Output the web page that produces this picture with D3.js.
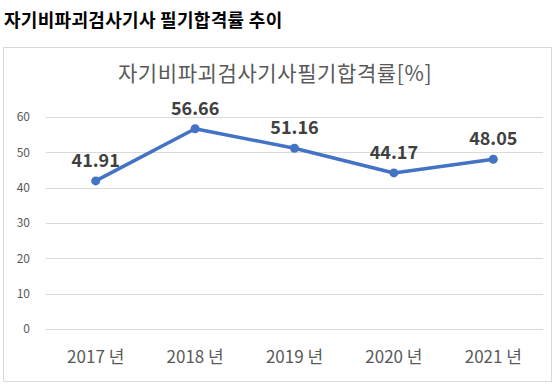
<!DOCTYPE html>
<html><head><meta charset="utf-8">
<script src="https://cdn.jsdelivr.net/npm/d3@7/dist/d3.min.js"></script>
<style>
html,body{margin:0;padding:0;background:#fff;}
svg{display:block;font-family:"Noto Sans CJK KR","Noto Sans",sans-serif;}
</style></head>
<body>
<svg id="chart" width="559" height="389"></svg>
<script>
const categories = ["2017 년", "2018 년", "2019 년", "2020 년", "2021 년"];
const values = [41.91, 56.66, 51.16, 44.17, 48.05];
const yTicks = [0, 10, 20, 30, 40, 50, 60];
const pageTitle = "자기비파괴검사기사 필기합격률 추이";
const chartTitle = "자기비파괴검사기사필기합격률[%]";

const svg = d3.select("#chart");

svg.append("text").attr("x", 4).attr("y", 27)
  .attr("font-size", 18).attr("font-weight", "bold").attr("fill", "#000")
  .attr("letter-spacing", 0.3)
  .text(pageTitle);

svg.append("rect").attr("x", 3.5).attr("y", 47.5).attr("width", 548).attr("height", 334)
  .attr("fill", "#fff").attr("stroke", "#d9d9d9").attr("stroke-width", 1);

svg.append("text").attr("x", 275).attr("y", 81).attr("text-anchor", "middle")
  .attr("font-size", 21).attr("fill", "#595959").attr("letter-spacing", 0.6).text(chartTitle);

const left = 46, right = 543;
const x = d3.scaleBand().domain(categories).range([left, right]);
const y = d3.scaleLinear().domain([0, 60]).range([329, 117]);

const grid = svg.append("g");
grid.selectAll("line").data(yTicks).join("line")
  .attr("x1", left).attr("x2", right)
  .attr("y1", d => Math.round(y(d)) + 0.5).attr("y2", d => Math.round(y(d)) + 0.5)
  .attr("stroke", "#d9d9d9").attr("stroke-width", 1);

const yAxis = d3.axisLeft(y).tickValues(yTicks).tickSize(0).tickPadding(0);
const yg = svg.append("g").attr("transform", "translate(30,0)").call(yAxis);
yg.select(".domain").remove();
yg.selectAll("text").attr("font-size", 12).attr("fill", "#595959")
  .attr("font-family", '"Noto Sans CJK KR","Noto Sans",sans-serif');

const xAxis = d3.axisBottom(x).tickSize(0).tickPadding(0);
const xg = svg.append("g").attr("transform", "translate(0,351)").call(xAxis);
xg.select(".domain").remove();
xg.selectAll("text").attr("font-size", 17).attr("fill", "#595959").attr("dy", "0.71em")
  .attr("font-family", '"Noto Sans CJK KR","Noto Sans",sans-serif');

const cx = (d, i) => x(categories[i]) + x.bandwidth() / 2;
const line = d3.line().x((d, i) => cx(d, i)).y(d => y(d));
svg.append("path").datum(values).attr("d", line)
  .attr("fill", "none").attr("stroke", "#4472C4").attr("stroke-width", 3.5)
  .attr("stroke-linejoin", "round").attr("stroke-linecap", "round");

svg.append("g").selectAll("circle").data(values).join("circle")
  .attr("cx", cx).attr("cy", d => y(d)).attr("r", 4.5).attr("fill", "#4472C4");

svg.append("g").selectAll("text").data(values).join("text")
  .attr("x", cx).attr("y", d => y(d) - 14).attr("text-anchor", "middle")
  .attr("font-size", 18).attr("font-weight", "bold").attr("fill", "#404040")
  .text(d => d.toFixed(2));
</script>
</body></html>
